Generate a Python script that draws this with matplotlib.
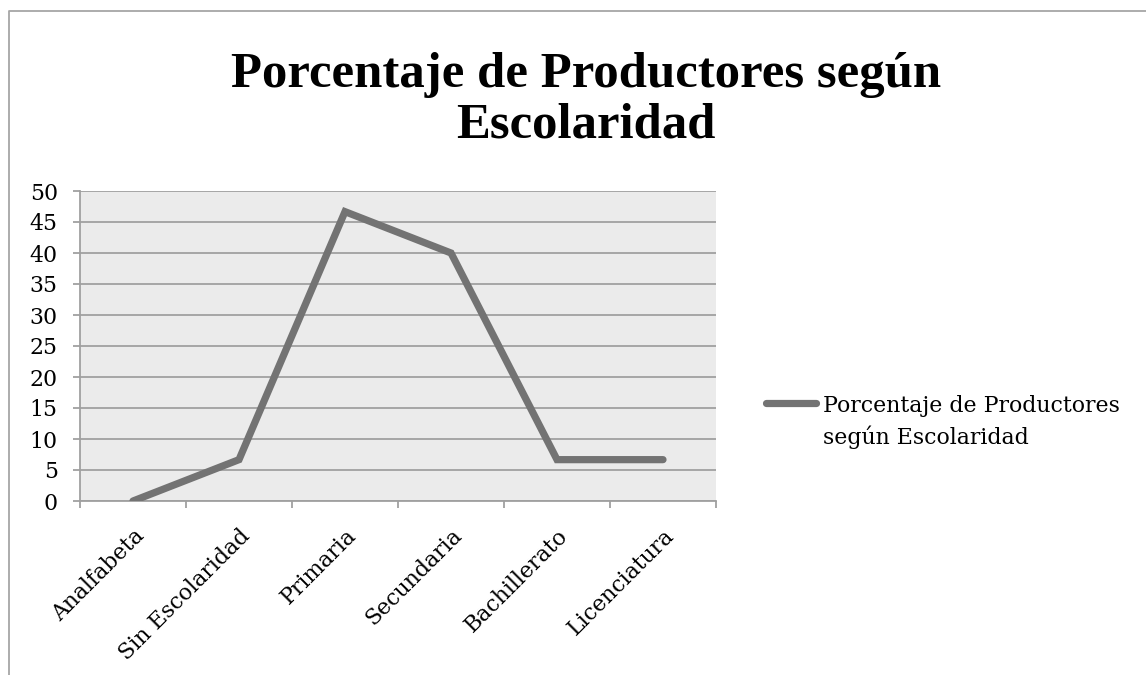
import matplotlib
matplotlib.use("Agg")
import matplotlib.pyplot as plt
from matplotlib.lines import Line2D

categories = ["Analfabeta", "Sin Escolaridad", "Primaria", "Secundaria", "Bachillerato", "Licenciatura"]
values = [0, 6.67, 46.67, 40, 6.67, 6.67]
series_name = "Porcentaje de Productores\nsegún Escolaridad"
title = "Porcentaje de Productores según\nEscolaridad"
yticks = [0, 5, 10, 15, 20, 25, 30, 35, 40, 45, 50]

plt.rcParams['font.family'] = ['DejaVu Serif']

W, H = 1146, 675
fig = plt.figure(figsize=(W / 100, H / 100), dpi=100)
ax = fig.add_axes([80 / W, 1 - 501 / H, (716 - 80) / W, (501 - 191) / H])
ax.set_facecolor('#EBEBEB')

line_color = '#737373'
grid_color = '#A0A0A0'
fs = 15.8
x = list(range(len(categories)))
ax.plot(x, values, color=line_color, lw=5.2, solid_capstyle='round', solid_joinstyle='miter', zorder=3)

ax.set_xlim(-0.5, len(categories) - 0.5)
ax.set_ylim(0, 50)
ax.set_yticks(yticks)
ax.set_yticklabels([str(v) for v in yticks])
ax.yaxis.grid(True, color=grid_color, lw=1.3)
ax.set_axisbelow(True)

ax.set_xticks([i - 0.5 for i in range(len(categories) + 1)], minor=False)
ax.set_xticklabels([])
ax.set_xticks(x, minor=True)
ax.set_xticklabels(categories, minor=True, rotation=45, ha='right', rotation_mode='anchor', fontsize=fs)
ax.tick_params(axis='x', which='minor', length=0, pad=17)
ax.tick_params(axis='x', which='major', length=5, color=grid_color, width=1.3)
ax.tick_params(axis='y', length=5, color=grid_color, width=1.3, labelsize=fs, pad=11)

for s in ['top', 'right']:
    ax.spines[s].set_visible(False)
for s in ['left', 'bottom']:
    ax.spines[s].set_color(grid_color)
    ax.spines[s].set_linewidth(1.3)

fig.text(586 / W, 1 - 52 / H, title, ha='center', va='top', fontsize=36.5, fontweight='bold',
         linespacing=1.12, family='Liberation Serif')

# legend
fig.add_artist(Line2D([766 / W, 816 / W], [1 - 403 / H, 1 - 403 / H], color=line_color, lw=5.2,
                      solid_capstyle='round', transform=fig.transFigure))
fig.text(823 / W, 1 - 395 / H, series_name, ha='left', va='top', fontsize=fs, linespacing=1.45)

# outer border
fig.add_artist(Line2D([9 / W, 9 / W, 1.0], [0, 1 - 11 / H, 1 - 11 / H], color='#A6A6A6', lw=1.3,
                      transform=fig.transFigure))

fig.savefig("out.png", dpi=100)
